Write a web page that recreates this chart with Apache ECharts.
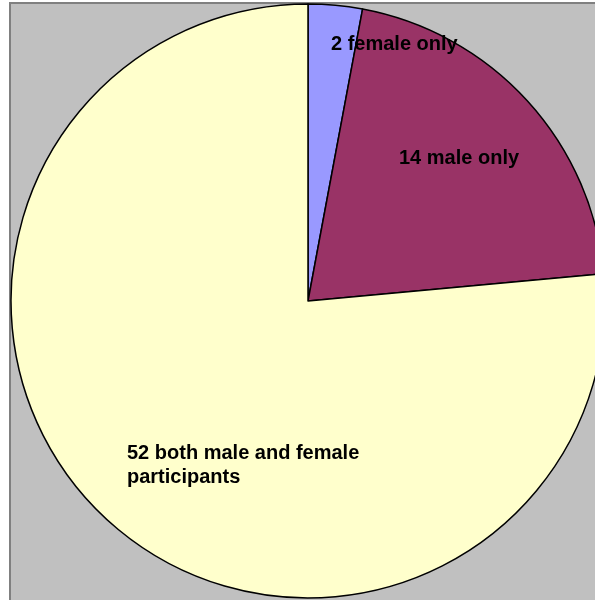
<!DOCTYPE html>
<html>
<head>
<meta charset="utf-8">
<script src="https://cdn.jsdelivr.net/npm/echarts@6/dist/echarts.min.js"></script>
<style>
    html, body { margin: 0; padding: 0; background: #ffffff; }
    #bingzhuang { width: 595px; height: 600px; }
</style>
</head>
<body>
<div id="bingzhuang"></div>
<script>
var names = ['2 female only', '14 male only', '52 both male and female\nparticipants'];
var values = [2, 14, 52];
var colors = ['#9999FF', '#993366', '#FFFFCC'];
// where each label sits (left edge, vertical middle)
var labelPos = [[331, 44], [399, 158], [127, 465]];

var myChart = echarts.init(document.getElementById('bingzhuang'));
var series_data = [];
for (var i = 0; i < values.length; i++) {
    series_data.push({ name: names[i], value: values[i], itemStyle: { color: colors[i] } });
}
var option = {
    animation: false,
    graphic: [{
        type: 'rect',
        z: -10,
        shape: { x: 10, y: 3, width: 620, height: 640 },
        style: { fill: '#C0C0C0', stroke: '#808080', lineWidth: 2 }
    }],
    series: [{
        type: 'pie',
        center: [308, 301],
        radius: [0, 297],
        startAngle: 90,
        clockwise: true,
        avoidLabelOverlap: false,
        itemStyle: { borderColor: '#000000', borderWidth: 1.5 },
        label: {
            show: true,
            position: 'inside',
            formatter: '{b}',
            color: '#000000',
            fontFamily: 'Liberation Sans',
            fontWeight: 'bold',
            fontSize: 20,
            lineHeight: 24
        },
        labelLine: { show: false },
        labelLayout: function (params) {
            var p = labelPos[params.dataIndex];
            return { x: p[0], y: p[1], align: 'left', verticalAlign: 'middle' };
        },
        emphasis: { disabled: true },
        data: series_data
    }]
};
myChart.setOption(option);
window.addEventListener("resize", function () { myChart.resize(); });
</script>
</body>
</html>
